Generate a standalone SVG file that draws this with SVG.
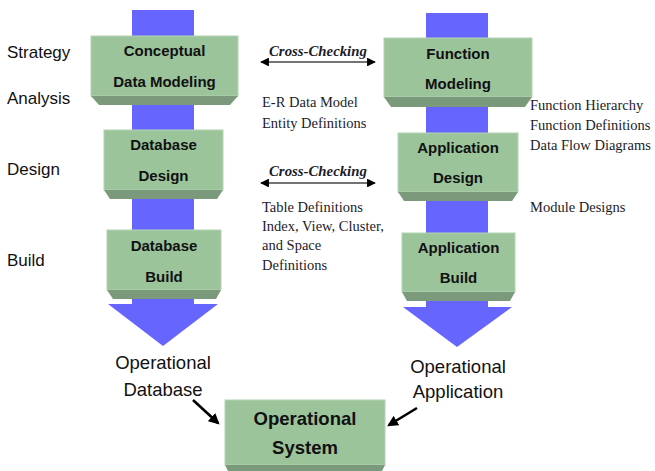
<svg xmlns="http://www.w3.org/2000/svg" width="655" height="471" viewBox="0 0 655 471">
  <style>
    .bar { fill: #6666ff; }
    .face { fill: #9bc49b; stroke: #b4d4b4; stroke-width: 1; }
    .bevel { fill: #7b9a7b; }
    .blabel { font-family: "Liberation Sans", Arial, sans-serif; font-weight: bold; font-size: 15px; fill: #111; text-anchor: middle; }
    .stage { font-family: "Liberation Sans", Arial, sans-serif; font-size: 17px; fill: #111; }
    .outlbl { font-family: "Liberation Sans", Arial, sans-serif; font-size: 18.5px; fill: #111; text-anchor: middle; }
    .note { font-family: "Liberation Serif", "Times New Roman", serif; font-size: 14.5px; fill: #1c1c28; }
    .cross { font-family: "Liberation Serif", "Times New Roman", serif; font-size: 14.8px; font-style: italic; font-weight: bold; fill: #1c1c28; }
    .xline { stroke: #444; stroke-width: 1.6; fill: none; }
    .flow { stroke: #000; stroke-width: 2.6; fill: none; }
  </style>
  <defs>
    <marker id="tip" viewBox="0 0 10 10" refX="9" refY="5" markerWidth="5.5" markerHeight="5.5" orient="auto-start-reverse" markerUnits="strokeWidth">
      <path d="M0,0 L10,5 L0,10 z" fill="#000"/>
    </marker>
    <marker id="bigtip" viewBox="0 0 10 10" refX="8" refY="5" markerWidth="4.2" markerHeight="4.2" orient="auto" markerUnits="strokeWidth">
      <path d="M0,0 L10,5 L0,10 z" fill="#000"/>
    </marker>
  </defs>

  <!-- stage names -->
  <g id="stages">
    <text class="stage" x="7" y="58">Strategy</text>
    <text class="stage" x="7" y="104">Analysis</text>
    <text class="stage" x="7" y="175">Design</text>
    <text class="stage" x="7" y="266">Build</text>
  </g>

  <!-- data column flow -->
  <g id="data-flow">
    <rect class="bar" x="132" y="10" width="62" height="296"/>
    <polygon class="bar" points="108,304 218,304 163,346"/>
  </g>
  <!-- function column flow -->
  <g id="function-flow">
    <rect class="bar" x="426" y="13" width="62" height="296"/>
    <polygon class="bar" points="403,307 512,307 457,347"/>
  </g>

  <g id="conceptual-data-modeling">
    <rect class="face" x="91" y="36" width="147" height="60"/>
    <polygon class="bevel" points="91,96 238,96 230,105 99,105"/>
    <text class="blabel" x="164.5" y="56">Conceptual</text>
    <text class="blabel" x="164.5" y="87">Data Modeling</text>
  </g>
  <g id="database-design">
    <rect class="face" x="104" y="130" width="119" height="60"/>
    <polygon class="bevel" points="104,190 223,190 217,199 110,199"/>
    <text class="blabel" x="163.5" y="150">Database</text>
    <text class="blabel" x="163.5" y="181">Design</text>
  </g>
  <g id="database-build">
    <rect class="face" x="107" y="230" width="114" height="60"/>
    <polygon class="bevel" points="107,290 221,290 216,299 113,299"/>
    <text class="blabel" x="164" y="251">Database</text>
    <text class="blabel" x="164" y="282">Build</text>
  </g>

  <g id="function-modeling">
    <rect class="face" x="384" y="38" width="148" height="59"/>
    <polygon class="bevel" points="384,97 532,97 525,107 391,107"/>
    <text class="blabel" x="458" y="59">Function</text>
    <text class="blabel" x="458" y="89">Modeling</text>
  </g>
  <g id="application-design">
    <rect class="face" x="398" y="133" width="120" height="59"/>
    <polygon class="bevel" points="398,192 518,192 512,201 404,201"/>
    <text class="blabel" x="458" y="153">Application</text>
    <text class="blabel" x="458" y="183">Design</text>
  </g>
  <g id="application-build">
    <rect class="face" x="402" y="233" width="113" height="59"/>
    <polygon class="bevel" points="402,292 515,292 510,301 407,301"/>
    <text class="blabel" x="458.5" y="253">Application</text>
    <text class="blabel" x="458.5" y="283">Build</text>
  </g>

  <g id="operational-system">
    <rect class="face" x="225" y="400" width="160" height="65"/>
    <polygon class="bevel" points="225,465 385,465 380,475 230,475"/>
    <text class="blabel" style="font-size:18.5px" x="305" y="425">Operational</text>
    <text class="blabel" style="font-size:18.5px" x="305" y="454">System</text>
  </g>

  <!-- outputs of each column -->
  <g id="operational-database">
    <text class="outlbl" x="163" y="369">Operational</text>
    <text class="outlbl" x="163" y="396">Database</text>
  </g>
  <g id="operational-application">
    <text class="outlbl" x="458" y="373">Operational</text>
    <text class="outlbl" x="458" y="398">Application</text>
  </g>

  <!-- deliverables -->
  <g id="notes">
    <text class="note" x="262" y="107">E-R Data Model</text>
    <text class="note" x="262" y="128">Entity Definitions</text>
    <text class="note" x="262" y="212">Table Definitions</text>
    <text class="note" x="262" y="231">Index, View, Cluster,</text>
    <text class="note" x="262" y="250">and Space</text>
    <text class="note" x="262" y="270">Definitions</text>
    <text class="note" x="530" y="110">Function Hierarchy</text>
    <text class="note" x="530" y="130">Function Definitions</text>
    <text class="note" x="530" y="150">Data Flow Diagrams</text>
    <text class="note" x="530" y="212">Module Designs</text>
  </g>

  <g id="connectors">
    <text class="cross" x="269" y="56">Cross-Checking</text>
    <line class="xline" x1="261" y1="62" x2="375" y2="62" marker-start="url(#tip)" marker-end="url(#tip)"/>
    <text class="cross" x="269" y="176">Cross-Checking</text>
    <line class="xline" x1="261" y1="183" x2="375" y2="183" marker-start="url(#tip)" marker-end="url(#tip)"/>
    <line class="flow" x1="193" y1="400" x2="218" y2="423" marker-end="url(#bigtip)"/>
    <line class="flow" x1="417" y1="408" x2="389" y2="425" marker-end="url(#bigtip)"/>
  </g>
</svg>
